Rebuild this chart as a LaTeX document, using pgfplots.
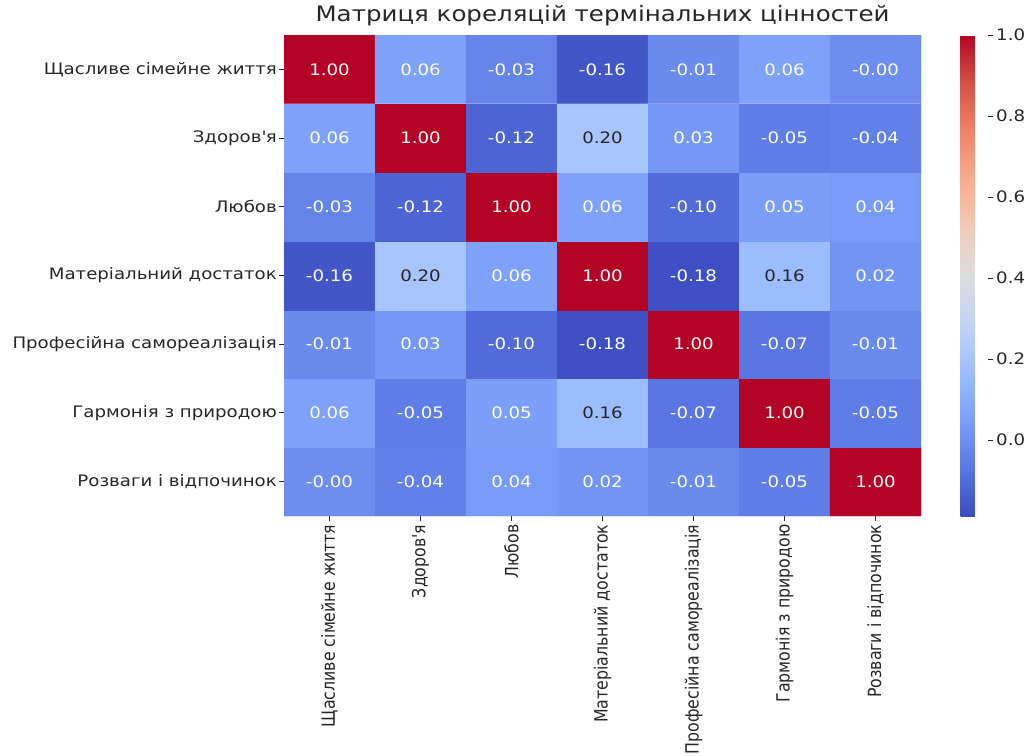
\documentclass[border=0pt]{standalone}
\usepackage{fontspec}
\setmainfont{DejaVu Sans}[FakeStretch=1.15]
\newfontfamily\xfont{DejaVu Sans}
\usepackage{graphicx}
\usepackage{pgfplots}
\pgfplotsset{compat=1.18}
\definecolor{txt}{HTML}{262626}

\pgfplotstableread{
x y c
0 0 -0.00
1 0 -0.04
2 0 0.04
3 0 0.02
4 0 -0.01
5 0 -0.05
6 0 1.00
0 1 0.06
1 1 -0.05
2 1 0.05
3 1 0.16
4 1 -0.07
5 1 1.00
6 1 -0.05
0 2 -0.01
1 2 0.03
2 2 -0.10
3 2 -0.18
4 2 1.00
5 2 -0.07
6 2 -0.01
0 3 -0.16
1 3 0.20
2 3 0.06
3 3 1.00
4 3 -0.18
5 3 0.16
6 3 0.02
0 4 -0.03
1 4 -0.12
2 4 1.00
3 4 0.06
4 4 -0.10
5 4 0.05
6 4 0.04
0 5 0.06
1 5 1.00
2 5 -0.12
3 5 0.20
4 5 0.03
5 5 -0.05
6 5 -0.04
0 6 1.00
1 6 0.06
2 6 -0.03
3 6 -0.16
4 6 -0.01
5 6 0.06
6 6 -0.00
}\corr

\pgfplotstableread{
x y l
0 0 -0.00
1 0 -0.04
2 0 0.04
3 0 0.02
4 0 -0.01
5 0 -0.05
6 0 1.00
0 1 0.06
1 1 -0.05
2 1 0.05
4 1 -0.07
5 1 1.00
6 1 -0.05
0 2 -0.01
1 2 0.03
2 2 -0.10
3 2 -0.18
4 2 1.00
5 2 -0.07
6 2 -0.01
0 3 -0.16
2 3 0.06
3 3 1.00
4 3 -0.18
6 3 0.02
0 4 -0.03
1 4 -0.12
2 4 1.00
3 4 0.06
4 4 -0.10
5 4 0.05
6 4 0.04
0 5 0.06
1 5 1.00
2 5 -0.12
4 5 0.03
5 5 -0.05
6 5 -0.04
0 6 1.00
1 6 0.06
2 6 -0.03
3 6 -0.16
4 6 -0.01
5 6 0.06
6 6 -0.00
}\whitelab

\pgfplotstableread{
x y l
3 1 0.16
1 3 0.20
5 3 0.16
3 5 0.20
}\darklab

\newcommand{\fs}{\fontsize{15.8}{18}\selectfont}
\newcommand{\xl}[1]{{\xfont\fs\scalebox{1}[1.15]{#1}}}

\begin{document}
\begin{tikzpicture}
\useasboundingbox (0,0) rectangle (1025pt,-755pt);
\begin{axis}[
  at={(284pt,-516pt)}, anchor=south west,
  scale only axis, width=637pt, height=481pt,
  xmin=-0.5, xmax=6.5, ymin=-0.5, ymax=6.5,
  axis line style={draw=none},
  tick align=outside,
  major tick length=5pt,
  tick style={color=txt, line width=0.9pt},
  xtick={0,...,6}, ytick={0,...,6},
  xtick pos=bottom, ytick pos=left,
  xticklabels={\xl{Щасливе сімейне життя},\xl{Здоров\textquotesingle я},\xl{Любов},\xl{Матеріальний достаток},\xl{Професійна самореалізація},\xl{Гармонія з природою},\xl{Розваги і відпочинок}},
  yticklabels={Розваги і відпочинок,Гармонія з природою,Професійна самореалізація,Матеріальний достаток,Любов,Здоров\textquotesingle я,Щасливе сімейне життя},
  xticklabel style={rotate=90, anchor=east, color=txt},
  yticklabel style={font=\fs, color=txt, inner xsep=2pt},
  title={Матриця кореляцій термінальних цінностей},
  title style={at={(0.5,1)}, anchor=base, yshift=8pt, font=\fontsize{21.3}{24}\selectfont, color=txt},
  colormap={coolwarm}{rgb255=(59,76,192) rgb255=(89,119,227) rgb255=(123,159,249) rgb255=(158,190,255) rgb255=(192,212,245) rgb255=(221,220,220) rgb255=(242,203,183) rgb255=(247,172,142) rgb255=(238,132,104) rgb255=(214,82,68) rgb255=(180,4,38)},
  point meta min=-0.187, point meta max=1.0,
  colorbar,
  colorbar style={
    at={(parent axis.north east)}, anchor=north west, xshift=31pt,
    scale only axis, width=27pt, height=481pt,
    axis line style={draw=none},
    ytick={0,0.2,0.4,0.6,0.8,1.0},
    tick align=outside, major tick length=5pt,
    tick style={color=txt, line width=0.9pt},
    ytick pos=right, yticklabel pos=right,
    yticklabel style={font=\fs, color=txt, inner xsep=3.5pt, /pgf/number format/.cd, fixed, fixed zerofill, precision=1, assume math mode=true},
  },
]
\addplot[matrix plot*, mesh/cols=7, point meta=explicit] table[x=x, y=y, meta=c] {\corr};
\addplot[draw=none, nodes near coords, point meta=explicit symbolic,
  every node near coord/.append style={anchor=center, text=white, font=\fs}]
  table[x=x, y=y, meta=l] {\whitelab};
\addplot[draw=none, nodes near coords, point meta=explicit symbolic,
  every node near coord/.append style={anchor=center, text=txt, font=\fs}]
  table[x=x, y=y, meta=l] {\darklab};
\end{axis}
\end{tikzpicture}
\end{document}
